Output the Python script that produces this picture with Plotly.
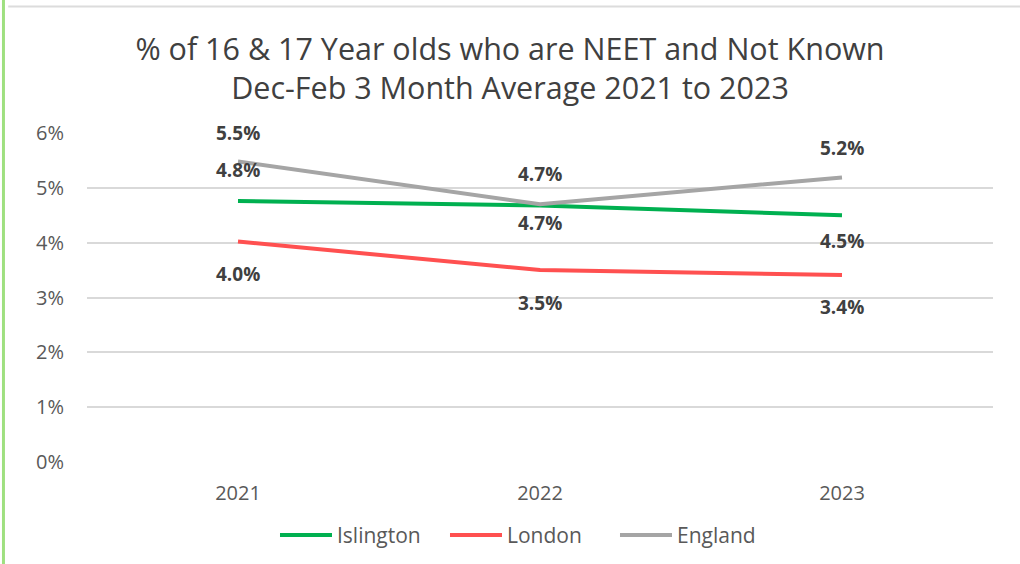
import plotly.graph_objects as go

# ── Data ────────────────────────────────────────────────────────────────
YEARS = ["2021", "2022", "2023"]
ISLINGTON = [4.76, 4.68, 4.50]
LONDON = [4.02, 3.50, 3.41]
ENGLAND = [5.48, 4.70, 5.19]

ISLINGTON_LBL = ["4.8%", "4.7%", "4.5%"]
LONDON_LBL = ["4.0%", "3.5%", "3.4%"]
ENGLAND_LBL = ["5.5%", "4.7%", "5.2%"]

COLORS = {
    "Islington": "#00b050",
    "London": "#ff5050",
    "England": "#a5a5a5",
    "text": "#595959",
    "label": "#404040",
    "grid": "#d9d9d9",
}

FONT = "Open Sans, Liberation Sans, sans-serif"

fig = go.Figure()
for name, vals in [("Islington", ISLINGTON), ("London", LONDON), ("England", ENGLAND)]:
    fig.add_trace(go.Scatter(
        x=YEARS, y=vals, name=name, mode="lines",
        line=dict(color=COLORS[name], width=4),
    ))

# data labels: (series values, texts, pixel shift per point)
label_sets = [
    (ENGLAND, ENGLAND_LBL, [29, 30, 29]),
    (ISLINGTON, ISLINGTON_LBL, [31, -18, -26]),
    (LONDON, LONDON_LBL, [-32, -33, -32]),
]
for vals, texts, shifts in label_sets:
    for i, (v, t, s) in enumerate(zip(vals, texts, shifts)):
        fig.add_annotation(
            x=i, y=v, xref="x", yref="y", text=f"<b>{t}</b>",
            showarrow=False, yshift=s,
            font=dict(size=19, color=COLORS["label"], family=FONT),
        )

# frame edges seen in the screenshot
fig.add_shape(type="line", xref="paper", yref="paper", x0=-0.0922, x1=-0.0922, y0=-0.32, y1=1.41,
              line=dict(color="#9fe080", width=3))
fig.add_shape(type="line", xref="paper", yref="paper", x0=-0.087, x1=1.04, y0=1.3845, y1=1.3845,
              line=dict(color="#dcdcdc", width=2))

fig.update_layout(
    width=1020, height=564,
    paper_bgcolor="white", plot_bgcolor="white",
    margin=dict(l=87, r=27, t=133, b=102, autoexpand=False),
    font=dict(family=FONT, color=COLORS["text"], size=20),
    title=dict(
        text="% of 16 & 17 Year olds who are NEET and Not Known<br>Dec-Feb 3 Month Average 2021 to 2023",
        x=0.5, xanchor="center", y=0.894, yanchor="top",
        font=dict(size=30.5, color="#404040", family=FONT),
    ),
    showlegend=True,
    legend=dict(
        orientation="h", x=0.2075, xanchor="left", y=-0.161, yanchor="top",
        font=dict(size=21, color=COLORS["text"]),
        itemwidth=52, entrywidth=103, bgcolor="rgba(0,0,0,0)",
    ),
)
fig.update_xaxes(
    type="category", range=[-0.5, 2.5], showgrid=False, showline=False,
    ticks="", ticklabelstandoff=17, tickfont=dict(size=20, color=COLORS["text"]),
)
fig.update_yaxes(
    range=[0, 6], dtick=1, ticksuffix="%", showgrid=True, gridcolor=COLORS["grid"],
    gridwidth=2, zeroline=False, showline=False, ticks="", ticklabelstandoff=22,
    tickfont=dict(size=20, color=COLORS["text"]),
)

fig.write_html("out.html", config={"displayModeBar": False},
               post_script="document.body.style.margin='0';")
